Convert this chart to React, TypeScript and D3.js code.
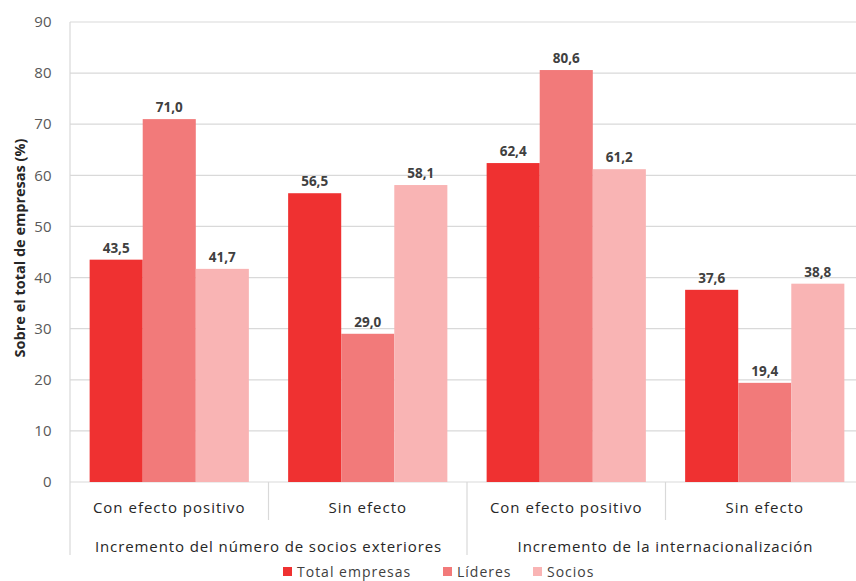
import React from "react";
import * as d3 from "d3";

const subCategories = ["Con efecto positivo", "Sin efecto", "Con efecto positivo", "Sin efecto"];
const groupLabels = ["Incremento del número de socios exteriores", "Incremento de la internacionalización"];
const seriesNames = ["Total empresas", "Líderes", "Socios"];
const totalEmpresas = [43.5, 56.5, 62.4, 37.6];
const lideres = [71.0, 29.0, 80.6, 19.4];
const socios = [41.7, 58.1, 61.2, 38.8];
const yTicks = [0, 10, 20, 30, 40, 50, 60, 70, 80, 90];
const colors = ["#EF3131", "#F27A7A", "#F9B4B4"];

const W = 856;
const H = 581;
const left = 70;
const right = 864;
const top = 22;
const bottom = 482;
const FONT = "'Open Sans', 'Noto Sans', sans-serif";

export default function App() {
  const series = [totalEmpresas, lideres, socios];
  const x0 = d3.scaleBand<number>().domain(d3.range(subCategories.length)).range([left, right]).padding(0);
  const x1 = d3.scaleBand<number>().domain(d3.range(seriesNames.length)).range([0, x0.bandwidth()]).paddingInner(0).paddingOuter(0.37);
  const y = d3.scaleLinear().domain([0, 90]).range([bottom, top]);
  const fmt = (v: number) => d3.format(".1f")(v).replace(".", ",");

  const legendX = [283, 443, 533];

  return (
    <svg width={W} height={H} style={{ position: "absolute", left: 0, top: 0, background: "#fff" }} fontFamily={FONT}>
      {yTicks.map((t) => (
        <g key={t}>
          <line x1={left} x2={right} y1={y(t)} y2={y(t)} stroke="#D9D9D9" strokeWidth={1.2} />
          <text x={52} y={y(t)} dy="0.35em" textAnchor="end" fontSize={15} letterSpacing={0.3} fill="#595959">{t}</text>
        </g>
      ))}
      <line x1={left} x2={left} y1={top} y2={555} stroke="#D9D9D9" strokeWidth={1.2} />
      {subCategories.map((c, i) => (
        <g key={i}>
          {series.map((s, j) => {
            const bx = (x0(i) as number) + (x1(j) as number);
            return (
              <g key={j}>
                <rect x={bx} y={y(s[i])} width={x1.bandwidth()} height={bottom - y(s[i])} fill={colors[j]} />
                <text x={bx + x1.bandwidth() / 2} y={y(s[i]) - 7} textAnchor="middle" fontSize={13.5} fontWeight="bold" fill="#404040">{fmt(s[i])}</text>
              </g>
            );
          })}
          <text x={(x0(i) as number) + x0.bandwidth() / 2} y={508} dy="0.35em" textAnchor="middle" fontSize={15} letterSpacing={1} fill="#262626">{c}</text>
          {i > 0 && (
            <line x1={x0(i) as number} x2={x0(i) as number} y1={bottom} y2={i % 2 === 0 ? 555 : 520} stroke="#D9D9D9" strokeWidth={1.2} />
          )}
        </g>
      ))}
      {groupLabels.map((g, k) => (
        <text key={k} x={(x0(k * 2) as number) + x0.bandwidth()} y={547} dy="0.35em" textAnchor="middle" fontSize={15} letterSpacing={0.9} fill="#262626">{g}</text>
      ))}
      <text transform={`translate(20,${(top + bottom) / 2 - 4}) rotate(-90)`} textAnchor="middle" dy="0.35em" fontSize={14.5} fontWeight="bold" fill="#262626">Sobre el total de empresas (%)</text>
      {seriesNames.map((n, j) => (
        <g key={j}>
          <rect x={legendX[j]} y={567} width={9} height={9} fill={colors[j]} />
          <text x={legendX[j] + 14} y={572} dy="0.35em" fontSize={14} letterSpacing={1} fill="#404040">{n}</text>
        </g>
      ))}
    </svg>
  );
}
